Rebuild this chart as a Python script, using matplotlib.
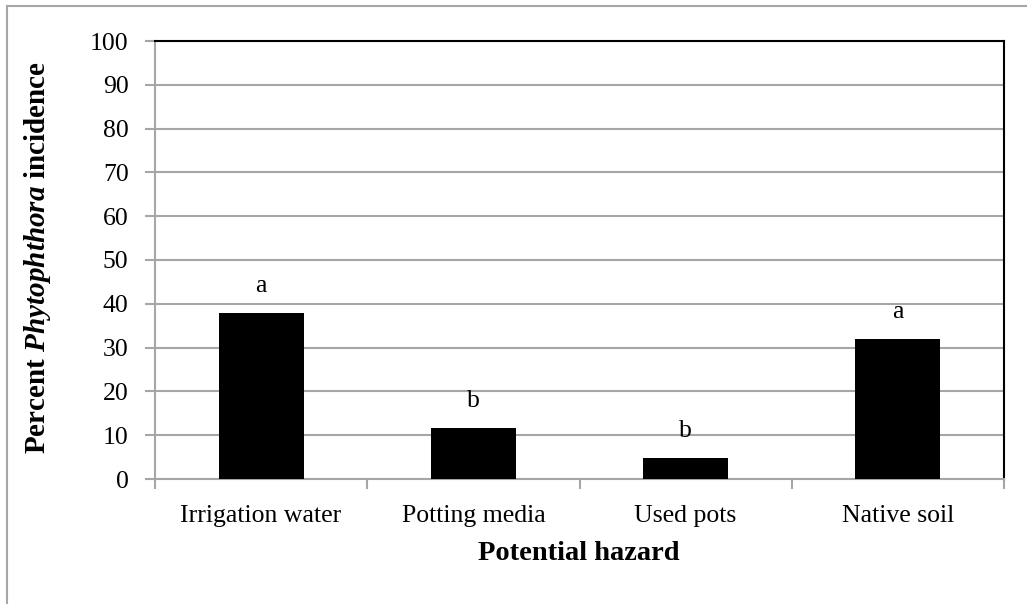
import matplotlib
matplotlib.use('Agg')
import matplotlib.pyplot as plt
from matplotlib.lines import Line2D

categories = ['Irrigation water', 'Potting media', 'Used pots', 'Native soil']
incidence = [37.8, 11.6, 4.7, 31.9]
letters = ['a', 'b', 'b', 'a']
yticks = list(range(0, 101, 10))

plt.rcParams['font.family'] = 'Liberation Serif'
plt.rcParams['mathtext.fontset'] = 'custom'
plt.rcParams['mathtext.bfit'] = 'Liberation Serif:italic:bold'

W, H = 1027, 604
fig = plt.figure(figsize=(W / 100, H / 100), dpi=100)
ax = fig.add_axes([155 / W, 1 - 479 / H, (1004 - 155) / W, (479 - 41) / H])

grid_c = '#a6a6a6'
x = range(len(categories))
ax.bar(x, incidence, width=0.4, color='black', zorder=3)

for xi, v, s in zip(x, incidence, letters):
    ax.annotate(s, (xi, v), xytext=(0, 19.5), textcoords='offset points',
                ha='center', va='center', fontsize=18.5)

ax.set_xlim(-0.5, 3.5)
ax.set_ylim(0, 100)
ax.set_yticks(yticks)
ax.set_xticks([i - 0.5 for i in range(5)], minor=True)
ax.set_xticks(list(x))
ax.set_xticklabels(categories)
ax.tick_params(axis='x', which='major', length=0, pad=19, labelsize=18.5)
ax.tick_params(axis='x', which='minor', length=7, width=1.5, color=grid_c)
ax.tick_params(axis='y', length=7, width=1.5, color=grid_c, pad=12, labelsize=18.5)
ax.yaxis.grid(True, color=grid_c, linewidth=1.5, zorder=0)
ax.set_axisbelow(True)

for side in ['left', 'bottom']:
    ax.spines[side].set_color(grid_c)
    ax.spines[side].set_linewidth(1.5)
for side in ['top', 'right']:
    ax.spines[side].set_color('black')
    ax.spines[side].set_linewidth(1.5)

fig.text(38 / W, 1 - 258 / H, r'Percent $\mathbfit{Phytophthora}$ incidence',
         rotation=90, ha='center', va='center', fontsize=21, fontweight='bold')
fig.text(579 / W, 1 - 554 / H, 'Potential hazard', ha='center', va='center',
         fontsize=20.5, fontweight='bold')

# outer chart border (only top and left show in the crop)
fig.add_artist(Line2D([7 / W, 1], [1 - 6 / H, 1 - 6 / H], color=grid_c, linewidth=1.5))
fig.add_artist(Line2D([7 / W, 7 / W], [0, 1 - 6 / H], color=grid_c, linewidth=1.5))

fig.savefig('out.png', dpi=100)
